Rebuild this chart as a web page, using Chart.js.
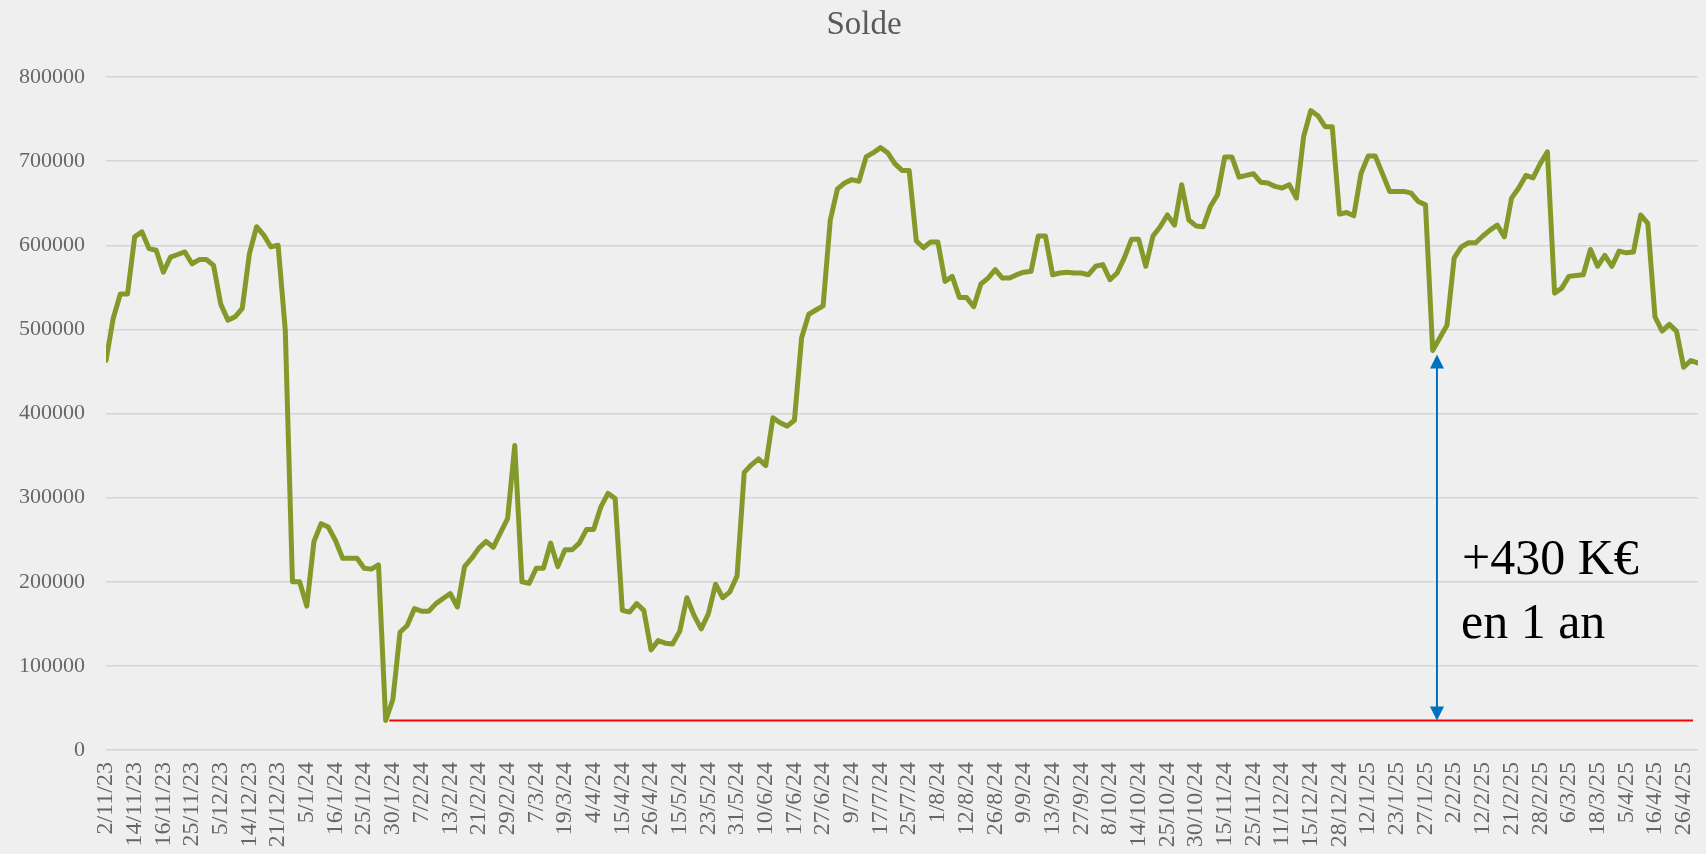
<!DOCTYPE html>
<html>
<head>
<meta charset="utf-8">
<script src="https://cdn.jsdelivr.net/npm/chart.js@4.4.1/dist/chart.umd.min.js"></script>
<style>
  html, body { margin: 0; padding: 0; overflow: hidden; background: #efefef; }
  #wrap { width: 1706px; height: 860px; }
</style>
</head>
<body>
<div id="wrap"><canvas id="c" width="1706" height="860"></canvas></div>
<script>
// ---- Data ----
const chartTitle = "Solde";
const tickLabels = [
  "2/11/23","14/11/23","16/11/23","25/11/23","5/12/23","14/12/23","21/12/23","5/1/24",
  "16/1/24","25/1/24","30/1/24","7/2/24","13/2/24","21/2/24","29/2/24","7/3/24",
  "19/3/24","4/4/24","15/4/24","26/4/24","15/5/24","23/5/24","31/5/24","10/6/24",
  "17/6/24","27/6/24","9/7/24","17/7/24","25/7/24","1/8/24","12/8/24","26/8/24",
  "9/9/24","13/9/24","27/9/24","8/10/24","14/10/24","25/10/24","30/10/24","15/11/24",
  "25/11/24","11/12/24","15/12/24","28/12/24","12/1/25","23/1/25","27/1/25","2/2/25",
  "12/2/25","21/2/25","28/2/25","6/3/25","18/3/25","5/4/25","16/4/25","26/4/25"
];
const pointsPerLabel = 4;
const soldeValues = [
  463000,513000,542000,542000,610000,616000,596000,594000,568000,586000,
  589000,592000,578000,583000,583000,576000,530000,511000,515000,525000,
  590000,622000,612000,598000,600000,499000,200000,200000,171000,248000,
  269000,265000,249000,228000,228000,228000,216000,215000,220000,35000,
  60000,140000,148000,168000,165000,165000,174000,180000,186000,170000,
  218000,228000,240000,248000,241000,258000,275000,362000,200000,198000,
  216000,216000,246000,218000,238000,238000,246000,262000,262000,289000,
  305000,299000,166000,164000,174000,166000,119000,130000,127000,126000,
  141000,181000,160000,144000,162000,197000,181000,188000,207000,330000,
  339000,346000,338000,395000,389000,385000,392000,490000,518000,523000,
  528000,630000,667000,674000,678000,676000,705000,710000,716000,710000,
  697000,689000,689000,605000,597000,604000,604000,557000,563000,538000,
  538000,527000,554000,561000,571000,561000,561000,565000,568000,569000,
  611000,611000,565000,567000,568000,567000,567000,565000,575000,577000,
  559000,567000,585000,607000,607000,575000,611000,622000,636000,624000,
  672000,630000,623000,622000,646000,660000,705000,705000,681000,683000,
  685000,675000,674000,670000,668000,672000,656000,729000,760000,754000,
  741000,741000,637000,639000,635000,685000,706000,706000,685000,664000,
  664000,664000,662000,652000,648000,475000,490000,505000,585000,598000,
  603000,603000,611000,618000,624000,610000,656000,668000,683000,680000,
  697000,711000,543000,549000,563000,564000,565000,595000,575000,588000,
  575000,593000,591000,592000,636000,626000,515000,498000,506000,498000,
  455000,463000,460000
];
const yTicks = [0,100000,200000,300000,400000,500000,600000,700000,800000];
// annotation values
const baseLevel = 35000;       // red reference line
const arrowTopLevel = 470000;  // blue arrow top
const baseLineFrom = 39.5, baseLineTo = 221.3;
const arrowAt = 185.6;
const noteLines = ["+430 K€", "en 1 an"];

// ---- Chart ----
const points = soldeValues.map((v, i) => ({ x: i, y: v }));
const serif = "'Liberation Serif', 'Times New Roman', serif";

const titlePlugin = {
  id: 'titleP',
  afterDraw(chart) {
    const ctx = chart.ctx;
    ctx.save();
    ctx.font = "33px " + serif;
    ctx.fillStyle = "#595959";
    ctx.textAlign = "center";
    ctx.textBaseline = "middle";
    ctx.fillText(chartTitle, chart.width / 2 + 11, 25);
    ctx.restore();
  }
};

const annoPlugin = {
  id: 'anno',
  afterDatasetsDraw(chart) {
    const ctx = chart.ctx, xs = chart.scales.x, ys = chart.scales.y;
    ctx.save();
    const yb = ys.getPixelForValue(baseLevel);
    ctx.strokeStyle = "#ff0000";
    ctx.lineWidth = 2;
    ctx.beginPath();
    ctx.moveTo(xs.getPixelForValue(baseLineFrom), yb);
    ctx.lineTo(xs.getPixelForValue(baseLineTo), yb);
    ctx.stroke();
    const xa = xs.getPixelForValue(arrowAt);
    const yt = ys.getPixelForValue(arrowTopLevel);
    const head = 14, hw = 7;
    ctx.strokeStyle = "#0070c0";
    ctx.fillStyle = "#0070c0";
    ctx.lineWidth = 2;
    ctx.beginPath();
    ctx.moveTo(xa, yt + head - 1);
    ctx.lineTo(xa, yb - head + 1);
    ctx.stroke();
    ctx.beginPath();
    ctx.moveTo(xa, yt); ctx.lineTo(xa - hw, yt + head); ctx.lineTo(xa + hw, yt + head); ctx.closePath();
    ctx.fill();
    ctx.beginPath();
    ctx.moveTo(xa, yb); ctx.lineTo(xa - hw, yb - head); ctx.lineTo(xa + hw, yb - head); ctx.closePath();
    ctx.fill();
    ctx.fillStyle = "#000000";
    ctx.font = "50px " + serif;
    ctx.textAlign = "left";
    ctx.textBaseline = "alphabetic";
    ctx.fillText(noteLines[0], xa + 25, 574);
    ctx.fillText(noteLines[1], xa + 24, 638);
    ctx.restore();
  }
};

new Chart(document.getElementById('c'), {
  type: 'line',
  data: {
    datasets: [{
      label: chartTitle,
      data: points,
      borderColor: "#839a2b",
      borderWidth: 5,
      pointRadius: 0,
      tension: 0,
      fill: false,
      borderJoinStyle: 'round',
      borderCapStyle: 'round'
    }]
  },
  options: {
    responsive: false,
    animation: false,
    devicePixelRatio: 1,
    layout: { padding: { top: 77, right: 8, left: 0, bottom: 0 } },
    plugins: { legend: { display: false }, title: { display: false }, tooltip: { enabled: false } },
    scales: {
      x: {
        type: 'linear',
        min: 0,
        max: soldeValues.length - 1,
        afterFit(s) { s.height = 110; s.paddingLeft = 0; s.paddingRight = 0; },
        grid: { display: false, drawTicks: false },
        border: { display: false },
        ticks: {
          stepSize: pointsPerLabel,
          includeBounds: false,
          autoSkip: false,
          minRotation: 90,
          maxRotation: 90,
          padding: 12,
          color: "#666666",
          font: { family: serif, size: 24 },
          callback: (v) => (v % pointsPerLabel === 0 && tickLabels[v / pointsPerLabel] !== undefined) ? tickLabels[v / pointsPerLabel] : ''
        }
      },
      y: {
        min: yTicks[0],
        max: yTicks[yTicks.length - 1],
        afterFit(s) { s.width = 106; s.paddingTop = 0; s.paddingBottom = 0; },
        afterBuildTicks(s) { s.ticks = yTicks.map(v => ({ value: v })); },
        grid: { color: "#d5d5d5", lineWidth: 1.5, drawTicks: false },
        border: { display: false },
        ticks: {
          padding: 21,
          color: "#666666",
          font: { family: serif, size: 22 },
          callback: (v) => String(v)
        }
      }
    }
  },
  plugins: [annoPlugin, titlePlugin]
});
</script>
</body>
</html>
